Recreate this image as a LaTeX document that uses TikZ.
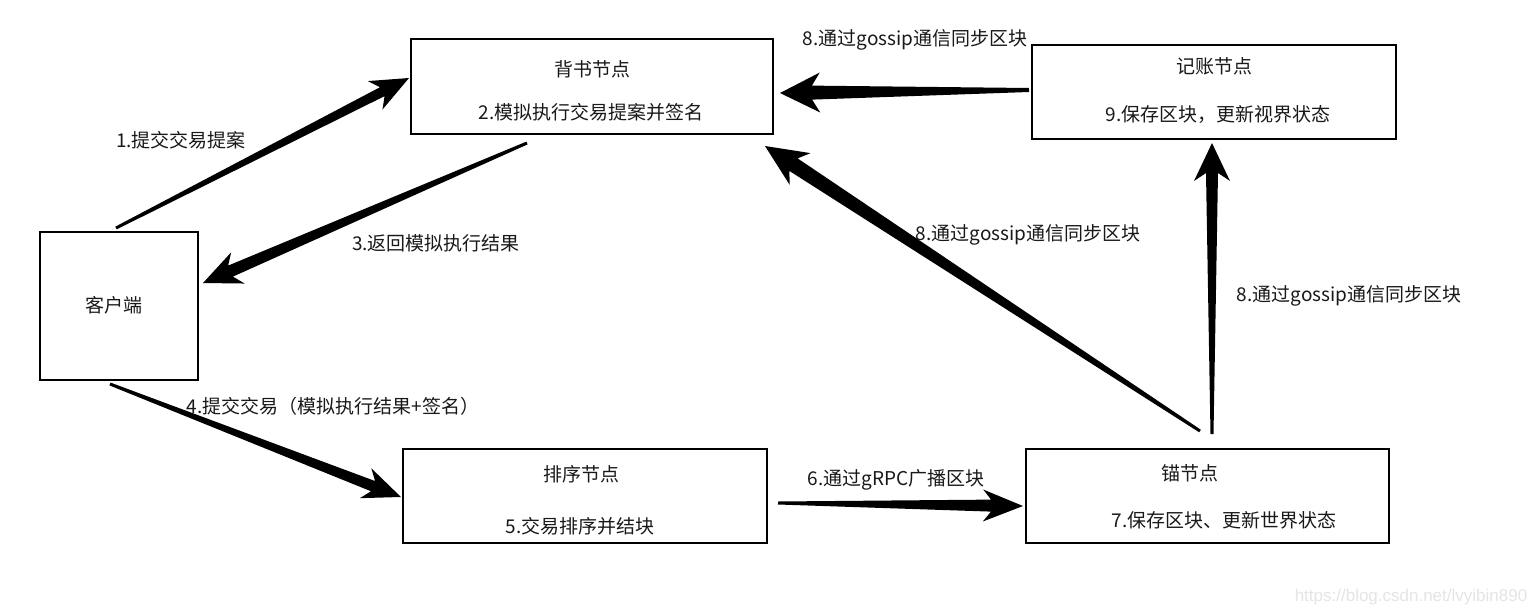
\documentclass[tikz,border=0pt]{standalone}
\usepackage{fontspec}
\setmainfont{Noto Sans CJK SC}
\newfontfamily\wmfont{Liberation Sans}
\usetikzlibrary{calc}
\newcommand\taperarrow[7]{% start, end, half w0, half w1, head len, barb back, head half width
  \coordinate (tmpH) at ($(#2)!#5!(#1)$);
  \coordinate (tmpB) at ($(#2)!#6!(#1)$);
  \fill[black]
    ($(#1)!#3!90:(#2)$) --
    ($(tmpH)!#4!90:(#2)$) --
    ($(tmpB)!#7!90:(#2)$) --
    (#2) --
    ($(tmpB)!#7!-90:(#2)$) --
    ($(tmpH)!#4!-90:(#2)$) --
    ($(#1)!#3!-90:(#2)$) -- cycle;
}
\begin{document}
\begin{tikzpicture}[x=1pt,y=-1pt,
  box/.style={draw=black, line width=2pt, minimum width=#1, inner sep=0pt},
  txt/.style={font=\fontsize{19}{22}\selectfont, inner sep=0pt, text=black!90}]
\useasboundingbox[fill=white] (0,0) rectangle (1532,616);
% boxes
\node[box=362pt, minimum height=95pt] (bs) at (592,86.5) {};
\node[box=364pt, minimum height=94pt] (jz) at (1214,92) {};
\node[box=158pt, minimum height=148pt] (kh) at (119,306) {};
\node[box=364pt, minimum height=94pt] (px) at (585,496) {};
\node[box=363pt, minimum height=94pt] (md) at (1207.5,496) {};
% box texts
\node[txt] (bs1) at (592,69) {背书节点};
\node[txt] (bs2) at (591,112) {2.模拟执行交易提案并签名};
\node[txt] (jz1) at (1214,66) {记账节点};
\node[txt] (jz2) at (1218,114) {9.保存区块，更新视界状态};
\node[txt] (kh1) at (114,305) {客户端};
\node[txt] (px1) at (581,474) {排序节点};
\node[txt] (px2) at (580,526) {5.交易排序并结块};
\node[txt] (md1) at (1190,473) {锚节点};
\node[txt] (md2) at (1224,520) {7.保存区块、更新世界状态};
% connector end points on the boxes
\coordinate (a1s) at ([shift={(-3,-3)}]kh.north);
\coordinate (a1e) at ([shift={(-1,-8.5)}]bs.west);
\coordinate (a3s) at ([shift={(-65,8)}]bs.south);
\coordinate (a3e) at ([shift={(4,-23)}]kh.east);
\coordinate (a4s) at ([shift={(-9,3)}]kh.south);
\coordinate (a4e) at ([shift={(-1,1)}]px.west);
\coordinate (a6s) at ([shift={(10,7)}]px.east);
\coordinate (a6e) at ([shift={(-2,10)}]md.west);
\coordinate (a8as) at ([shift={(-2,-2)}]jz.west);
\coordinate (a8ae) at ([shift={(6,6.5)}]bs.east);
\coordinate (a8bs) at ([shift={(-7.5,-17)}]md.north);
\coordinate (a8be) at ([shift={(173,11)}]bs.south);
\coordinate (a8cs) at ([shift={(4.5,-14)}]md.north);
\coordinate (a8ce) at ([shift={(-2,3)}]jz.south);
% connectors
\taperarrow{a1s}{a1e}{1.5pt}{5pt}{30pt}{38pt}{16pt}
\taperarrow{a3s}{a3e}{1.5pt}{6pt}{30pt}{38pt}{17pt}
\taperarrow{a4s}{a4e}{1.5pt}{5.5pt}{30pt}{38pt}{16pt}
\taperarrow{a6s}{a6e}{1.5pt}{6pt}{32pt}{40pt}{16pt}
\taperarrow{a8as}{a8ae}{2pt}{7pt}{32pt}{40pt}{20pt}
\taperarrow{a8bs}{a8be}{1.5pt}{7.5pt}{34pt}{42pt}{19pt}
\taperarrow{a8cs}{a8ce}{1.5pt}{6pt}{30pt}{38pt}{18pt}
% labels
\node[txt] (l1) at (181,140) {1.提交交易提案};
\node[txt] (l3) at (436,243) {3.返回模拟执行结果};
\node[txt] (l4) at (333,406) {4.提交交易（模拟执行结果+签名）};
\node[txt] (l6) at (896,480) {6.通过gRPC广播区块};
\node[txt] (l8a) at (915,40) {8.通过gossip通信同步区块};
\node[txt] (l8b) at (1028,235) {8.通过gossip通信同步区块};
\node[txt] (l8c) at (1349,296) {8.通过gossip通信同步区块};
\node[font=\wmfont\fontsize{17}{20}\selectfont, text=black!10, inner sep=0pt] (wm) at (1411,597) {https://blog.csdn.net/lvyibin890};
\end{tikzpicture}
\end{document}
